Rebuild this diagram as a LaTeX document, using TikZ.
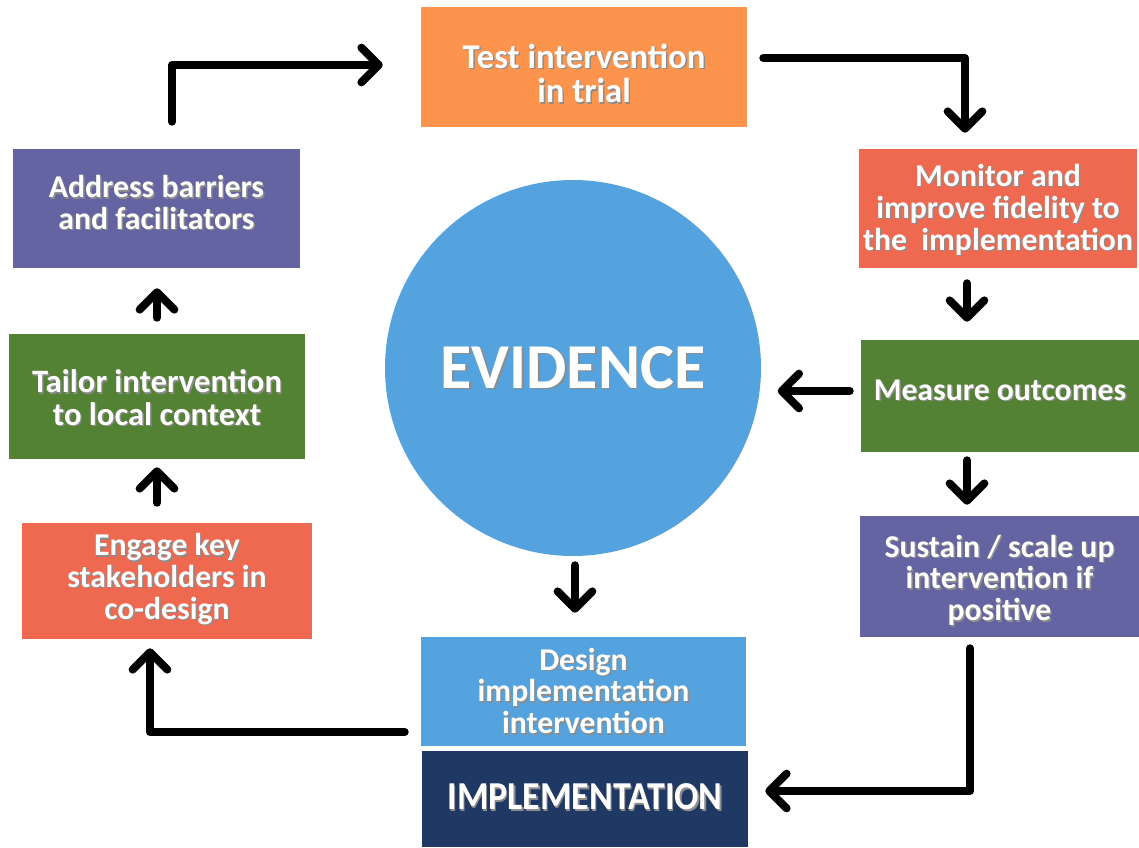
\documentclass[tikz,border=0pt]{standalone}
\usepackage{fontspec}
\setmainfont{Carlito}
\usetikzlibrary{arrows.meta,calc}
\definecolor{cOrange}{RGB}{252,148,78}
\definecolor{cSalmon}{RGB}{239,105,80}
\definecolor{cGreen}{RGB}{84,130,53}
\definecolor{cPurple}{RGB}{99,100,161}
\definecolor{cBlue}{RGB}{84,163,222}
\definecolor{cNavy}{RGB}{32,56,100}
\newcommand\shl[1]{\leavevmode\rlap{\kern1.1pt\lower1.1pt\hbox{\color{black!45}#1}}#1}
\newcommand\txt[1]{\begin{tabular}{@{}c@{}}#1\end{tabular}}
\tikzset{
  box/.style n args={3}{rectangle, fill=#1, minimum width={#2*0.75pt}, minimum height={#3*0.75pt},
     inner sep=0pt},
  lbl/.style={text=white, inner sep=0pt, align=center, font=\bfseries\fontsize{23.8}{23.8}\selectfont},
  arr/.style={line width=6pt, line cap=round, line join=round,
     -{Straight Barb[length=13pt, width=26pt, round]}},
}
\begin{document}
\begin{tikzpicture}[x=0.75pt,y=-0.75pt]
\useasboundingbox (0,0) rectangle (1139,847);
\node[circle, fill=cBlue, minimum size={376*0.75pt}, inner sep=0pt, text=white,
      font=\bfseries\fontsize{48}{50}\selectfont] (evidence) at (573,368) {\shl{EVIDENCE}};
\node[box={cOrange}{326}{120}, label={[lbl, font=\bfseries\fontsize{26}{26}\selectfont, yshift=-8.6pt]center:{\txt{\shl{Test intervention}\\\shl{in trial}}}}] (test) at (584,67) {};
\node[box={cSalmon}{278}{119}, label={[lbl, yshift=-2.6pt]center:{\txt{\shl{Monitor and}\\\shl{improve fidelity to}\\\shl{the\ \ implementation}}}}] (monitor) at (998,208.5) {};
\node[box={cGreen}{278}{112}, label={[lbl, yshift=3.75pt]center:{\shl{Measure outcomes}}}] (measure) at (1000,396) {};
\node[box={cPurple}{279}{121}, label={[lbl, yshift=-4.5pt]center:{\txt{\shl{Sustain / scale up}\\\shl{intervention if}\\\shl{positive}}}}] (sustain) at (999.5,576.5) {};
\node[box={cBlue}{325}{109}, label={[lbl, yshift=-3pt]center:{\txt{\shl{Design}\\\shl{implementation}\\\shl{intervention}}}}] (design) at (583.5,691.5) {};
\node[box={cNavy}{326}{96}, label={[lbl, font=\bfseries\fontsize{27}{30}\selectfont, yshift=1pt]center:{\scalebox{1}[1.1]{\shl{IMPLEMENTATION}}}}] (impl) at (585,799) {};
\node[box={cSalmon}{290}{116}, label={[lbl]center:{\txt{\shl{Engage key}\\\shl{stakeholders in}\\\shl{co-design}}}}] (engage) at (167,581) {};
\node[box={cGreen}{296}{125}, label={[lbl, font=\bfseries\fontsize{24.5}{24}\selectfont, yshift=-4.5pt]center:{\txt{\shl{Tailor intervention}\\\shl{to local context}}}}] (tailor) at (157,396.5) {};
\node[box={cPurple}{287}{119}, label={[lbl, yshift=1pt]center:{\txt{\shl{Address barriers}\\\shl{and facilitators}}}}] (address) at (156.5,208.5) {};

\draw[arr] ($(address.north)+(15.5,-27)$) |- ($(test.west)+(-38,-2)$);
\draw[arr] ($(test.east)+(16,-9)$) -| ($(monitor.north)+(-33,-16)$);
\draw[arr] ($(monitor.south)+(-31,15)$) -- ($(measure.north)+(-33,-18)$);
\draw[arr] ($(measure.west)+(-11,-5)$) -- ($(measure.west)+(-83,-5)$);
\draw[arr] ($(measure.south)+(-33,8)$) -- ($(sustain.north)+(-32.5,-11)$);
\draw[arr] ($(sustain.south)+(-29.5,11)$) |- ($(impl.east)+(17,-8)$);
\draw[arr] ($(evidence.south)+(2,9)$) -- ($(design.north)+(-8.5,-24)$);
\draw[arr] ($(design.west)+(-16,40.5)$) -| ($(engage.south)+(-17,9)$);
\draw[arr] ($(engage.north)+(-10,-20)$) -- ($(tailor.south)+(0,8)$);
\draw[arr] ($(tailor.north)+(0,-16)$) -- ($(address.south)+(0.5,20)$);
\end{tikzpicture}
\end{document}
